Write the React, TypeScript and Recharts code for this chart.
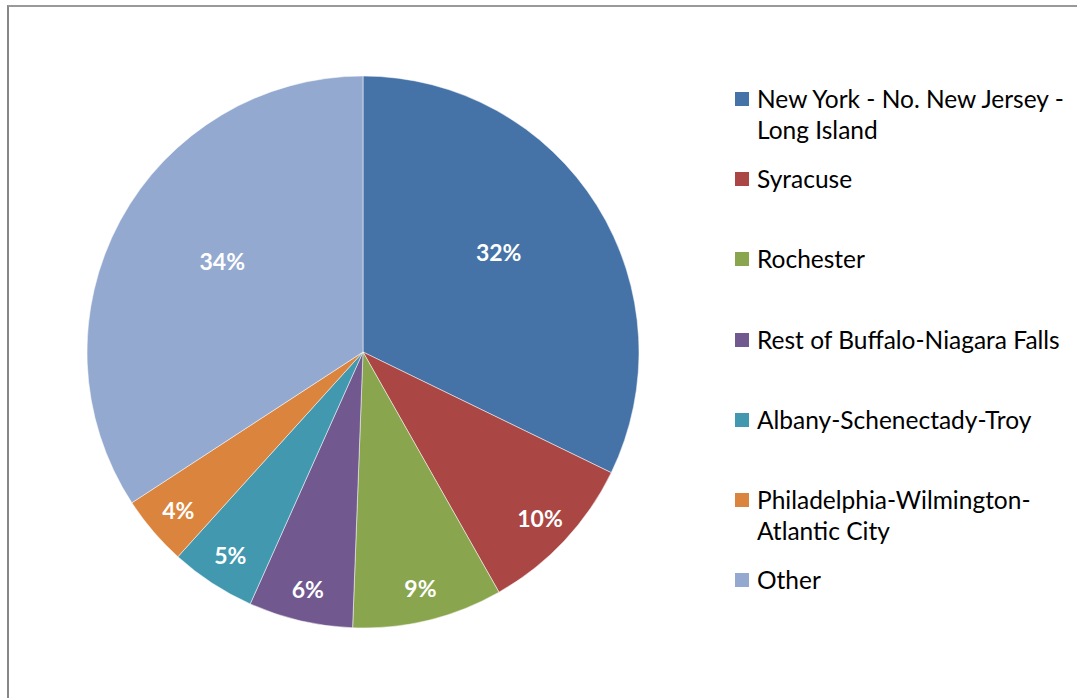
import React from "react";
import { PieChart, Pie, Cell, Legend } from "recharts";

const regions = [
  "New York - No. New Jersey - Long Island",
  "Syracuse",
  "Rochester",
  "Rest of Buffalo-Niagara Falls",
  "Albany-Schenectady-Troy",
  "Philadelphia-Wilmington-Atlantic City",
  "Other",
];
const shares = [32.2, 9.6, 8.8, 6.1, 5.0, 4.1, 34.2];
const colors = ["#4673A7", "#AA4643", "#89A54E", "#71588F", "#4198AF", "#DB843D", "#94A9CF"];

const rows = regions.map((name, i) => ({ name, value: shares[i] }));

const FONT = "Lato, 'Open Sans', sans-serif";
const RAD = Math.PI / 180;

const renderLabel = (p: any) => {
  // big slices get the label nearer the middle (and a bit higher), small ones near the rim
  const big = p.percent > 0.2;
  const r = p.outerRadius * (big ? 0.58 : 0.88);
  const x = p.cx + r * Math.cos(-p.midAngle * RAD);
  const y = p.cy + r * Math.sin(-p.midAngle * RAD) - (big ? 15 : 0);
  return (
    <text x={x} y={y} fill="#fff" fontFamily={FONT} fontWeight={700} fontSize={23}
      textAnchor="middle" dominantBaseline="central">
      {Math.round(p.value)}%
    </text>
  );
};

// legend in data order (recharts sorts payload by name otherwise)
const renderLegend = () => (
  <div style={{ width: 340, fontFamily: FONT, fontSize: 24.5, color: "#000", lineHeight: "31px" }}>
    {regions.map((name, i) => (
      <div key={name} style={{ height: 80.2, display: "flex", alignItems: "flex-start" }}>
        <span style={{ width: 14, height: 14, background: colors[i], marginTop: 9, marginRight: 8, flex: "none" }} />
        <span style={{ width: 315 }}>{name}</span>
      </div>
    ))}
  </div>
);

export default function App() {
  return (
    <div style={{ position: "absolute", left: 0, top: 0, width: 1077, height: 698, overflow: "hidden", background: "#fff" }}>
      <div style={{ position: "absolute", left: 7, top: 5, width: 1200, height: 800,
        borderLeft: "2px solid #888", borderTop: "2px solid #999" }} />
      <PieChart width={1077} height={698} margin={{ top: 0, right: 0, bottom: 0, left: 0 }}
        style={{ position: "absolute", left: 0, top: 0 }}>
        <Pie data={rows} dataKey="value" nameKey="name" cx={363} cy={352} outerRadius={276}
          startAngle={90} endAngle={-270} stroke="#fff" strokeWidth={0.5}
          label={renderLabel} labelLine={false} isAnimationActive={false}>
          {rows.map((r, i) => <Cell key={r.name} fill={colors[i]} />)}
        </Pie>
        <Legend layout="vertical" align="right" verticalAlign="top" content={renderLegend}
          wrapperStyle={{ left: 735, top: 83, width: 340 }} />
      </PieChart>
    </div>
  );
}
